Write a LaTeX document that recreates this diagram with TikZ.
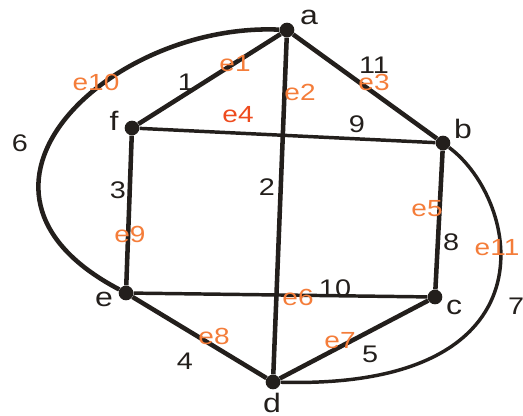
\documentclass[tikz,border=0pt]{standalone}
\usepackage{fontspec}
\setmainfont{Liberation Sans}[FakeStretch=1.2]
\usetikzlibrary{positioning}
\definecolor{ink}{HTML}{231F1C}
\definecolor{tag}{HTML}{F47D3A}
\definecolor{tagred}{HTML}{EE4B1E}
\tikzset{
  vtx/.style={circle,fill=ink,inner sep=0pt,minimum size=11pt},
  vlab/.style={text=ink,font=\fontsize{20}{22}\selectfont,inner sep=0pt},
  wt/.style={text=ink,font=\fontsize{18}{20}\selectfont,inner sep=0pt},
  eid/.style={text=tag,font=\fontsize{17.5}{19}\selectfont,inner sep=0pt},
  heavy/.style={draw=ink,line width=3.4pt},
  light/.style={draw=ink,line width=2.6pt},
}

\begin{document}
\begin{tikzpicture}[x=0.75pt,y=-0.75pt]
\useasboundingbox (0,0) rectangle (523,415);
% vertices
\node[vtx] (a) at (287,30) {};
\node[vtx] (b) at (443,143) {};
\node[vtx] (c) at (435,297) {};
\node[vtx] (d) at (273,382) {};
\node[vtx] (e) at (126,293) {};
\node[vtx] (f) at (132,128) {};
\node[vlab] (la) at (309,17) {a};
\node[vlab] (lb) at (463,129) {b};
\node[vlab] (lc) at (454,307) {c};
\node[vlab] (ld) at (272,403) {d};
\node[vlab] (le) at (104,299) {e};
\node[vlab] (lf) at (114,121) {f};
% edges
\draw[heavy] (a) -- (f);
\draw[heavy] (a) -- (d);
\draw[heavy] (a) -- (b);
\draw[light] (f) -- (b);
\draw[heavy] (b) -- (c);
\draw[light] (e) -- (c);
\draw[heavy] (d) -- (c);
\draw[heavy] (e) -- (d);
\draw[heavy] (f) -- (e);
\draw[heavy] (a) .. controls (110,22) and (-70,190) .. (e);
\draw[light] (b) .. controls (520,200) and (560,390) .. (d);
% weights
\node[wt] (w1) at (186,82) {1};
\node[wt] (w2) at (267,187) {2};
\node[wt] (w3) at (118,190) {3};
\node[wt] (w4) at (185,361) {4};
\node[wt] (w5) at (370,354) {5};
\node[wt] (w6) at (20,143) {6};
\node[wt] (w7) at (516,306) {7};
\node[wt] (w8) at (451,242) {8};
\node[wt] (w9) at (357,124) {9};
\node[wt] (w10) at (335,288) {10};
\node[wt] (w11) at (374,65) {11};
% edge ids
\node[eid] (e1) at (235,64) {e1};
\node[eid] (e2) at (300,92) {e2};
\node[eid] (e3) at (374,82) {e3};
\node[eid,text=tagred] (e4) at (238,115) {e4};
\node[eid] (e5) at (427,209) {e5};
\node[eid] (e6) at (298,297) {e6};
\node[eid] (e7) at (340,341) {e7};
\node[eid] (e8) at (214,336) {e8};
\node[eid] (e9) at (130,234) {e9};
\node[eid] (e10) at (96,82) {e10};
\node[eid] (e11) at (497,248) {e11};
\end{tikzpicture}
\end{document}
